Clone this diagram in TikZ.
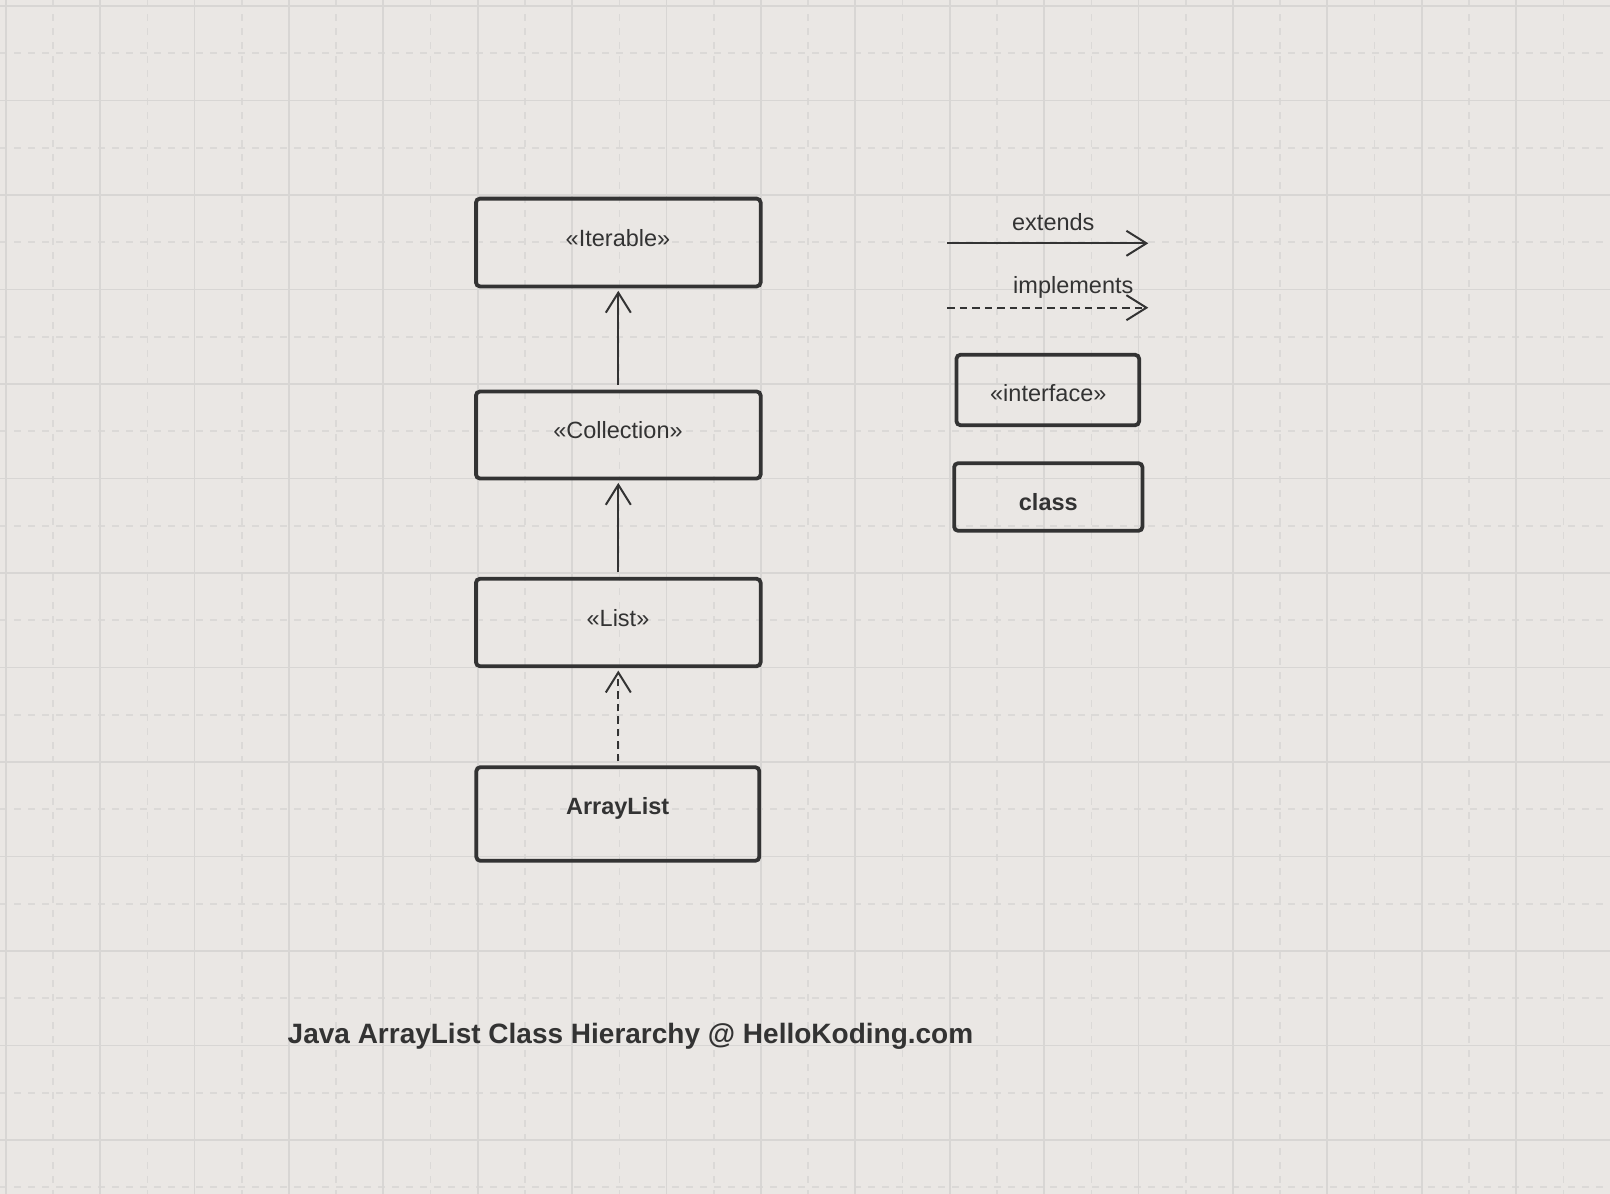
\documentclass[tikz,border=0pt]{standalone}
\usepackage{fontspec}
\setmainfont{Liberation Sans}
\usetikzlibrary{arrows.meta}
\definecolor{bg}{RGB}{234,231,228}
\definecolor{gridc}{RGB}{216,214,212}
\definecolor{gridd}{RGB}{219,217,215}
\definecolor{ink}{RGB}{51,51,51}
\begin{document}
\begin{tikzpicture}[x=1pt,y=-1pt,
  gridsolid/.style={draw=gridc, line width=1.8pt},
  griddash/.style={draw=gridd, line width=1.6pt, dash pattern=on 7pt off 7pt},
  box/.style={draw=ink, line width=3.8pt, rounded corners=4pt, inner sep=0pt},
  lbl/.style={text=ink, inner sep=0pt, anchor=base, font=\fontsize{23.5}{28}\selectfont},
  blbl/.style={lbl, font=\fontsize{23.5}{28}\selectfont\bfseries},
  ext/.style={draw=ink, line width=2pt, -{Straight Barb[length=20pt,width=25pt]}},
  impl/.style={ext, dash pattern=on 7.5pt off 5pt}]
\fill[bg] (0,0) rectangle (1610,1194);
\useasboundingbox (0,0) rectangle (1610,1194);
% grid
\foreach \i in {0,...,16} {\draw[griddash] ({52.9+94.4*\i},0) -- ({52.9+94.4*\i},1194);}
\foreach \i in {0,...,12} {\draw[griddash] (0,{53.25+94.5*\i}) -- (1610,{53.25+94.5*\i});}
\foreach \i in {0,...,17} {\draw[gridsolid] ({5.7+94.4*\i},0) -- ({5.7+94.4*\i},1194);}
\foreach \i in {0,...,12} {\draw[gridsolid] (0,{6+94.5*\i}) -- (1610,{6+94.5*\i});}
% boxes
\node[box, minimum width=284.7pt, minimum height=87.8pt] (iter) at (618.3,242.5) {};
\node[box, minimum width=284.7pt, minimum height=87pt] (coll) at (618.3,435) {};
\node[box, minimum width=284.7pt, minimum height=87.4pt] (list) at (618.3,622.5) {};
\node[box, minimum width=283pt, minimum height=93.6pt] (alist) at (617.8,814) {};
\node[box, minimum width=182.7pt, minimum height=70.4pt] (iface) at (1047.8,390) {};
\node[box, minimum width=188.3pt, minimum height=67.6pt] (cls) at (1048.3,497) {};
% texts
\node[lbl] (iterT) at (618,246.7) {«Iterable»};
\node[lbl] (collT) at (618,438.3) {«Collection»};
\node[lbl] (listT) at (618,626.7) {«List»};
\node[blbl] (alistT) at (617.7,814) {ArrayList};
\node[lbl] (ifaceT) at (1048.3,401.7) {«interface»};
\node[blbl] (clsT) at (1048.3,510) {class};
\node[lbl] (extT) at (1053.3,230) {extends};
\node[lbl] (implT) at (1073.3,293.3) {implements};
\node[text=ink, inner sep=0pt, anchor=base, font=\fontsize{28}{32}\selectfont\bfseries] (title) at (630.5,1043.3) {Java ArrayList Class Hierarchy @ HelloKoding.com};
% connectors
\draw[ext, shorten <=4.5pt, shorten >=2.5pt] (coll.north) -- (iter.south);
\draw[ext, shorten <=4.5pt, shorten >=2.5pt] (list.north) -- (coll.south);
\draw[impl, shorten <=4pt, shorten >=2.5pt] (alist.north -| list.south) -- (list.south);
% legend
\coordinate (e1) at (947.3,243.3);
\coordinate (e2) at (1148.3,243.3);
\coordinate (i1) at (947.3,307.7);
\coordinate (i2) at (1148.3,307.7);
\draw[ext] (e1) -- (e2);
\draw[impl] (i1) -- (i2);
\end{tikzpicture}
\end{document}
